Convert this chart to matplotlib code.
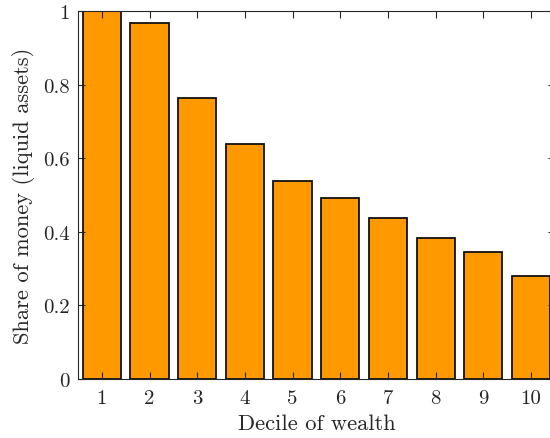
import numpy as np
import matplotlib.pyplot as plt

plt.rcParams['font.family'] = 'cmr10'
plt.rcParams['axes.formatter.use_mathtext'] = True
plt.rcParams['mathtext.fontset'] = 'cm'

deciles = np.arange(1, 11)
share = [1.0, 0.967, 0.763, 0.638, 0.538, 0.493, 0.437, 0.384, 0.345, 0.279]
yticks = [0, 0.2, 0.4, 0.6, 0.8, 1]
ytick_labels = ['0', '0.2', '0.4', '0.6', '0.8', '1']

fig = plt.figure(figsize=(5.5, 4.39), dpi=100)
ax = fig.add_axes([0.1418, 0.1344, 0.867, 0.8383])

ax.bar(deciles, share, width=0.8, color='#ff9900', edgecolor='#111111', linewidth=1.3)

ax.set_xlim(0.5, 10.5)
ax.set_ylim(0, 1)
ax.set_xticks(deciles)
ax.set_xticklabels([str(d) for d in deciles])
ax.set_yticks(yticks)
ax.set_yticklabels(ytick_labels)

ax.tick_params(direction='in', top=True, right=True, length=5, width=0.8,
               color='#262626', labelsize=15, labelcolor='#262626')
ax.tick_params(axis='x', pad=7)
ax.tick_params(axis='y', pad=6)
for s in ax.spines.values():
    s.set_color('#262626')
    s.set_linewidth(0.8)

ax.set_xlabel('Decile of wealth', fontsize=16.2, color='#262626', labelpad=5)
ax.set_ylabel('Share of money (liquid assets)', fontsize=16.2, color='#262626', labelpad=6)

fig.savefig('out.png', dpi=100)
